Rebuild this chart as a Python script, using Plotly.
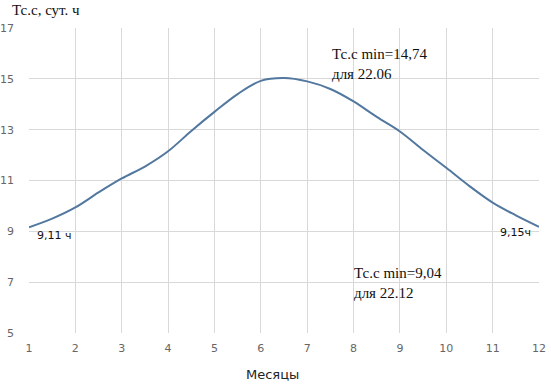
import plotly.graph_objects as go

months = [1, 1.5, 2, 2.5, 3, 3.5, 4, 4.5, 5, 5.5, 6, 6.5, 7, 7.5, 8, 8.5, 9, 9.5, 10, 10.5, 11, 11.5, 12]
day_length = [9.16, 9.5, 9.94, 10.53, 11.08, 11.55, 12.15, 12.95, 13.7, 14.4, 14.92, 15.03, 14.9, 14.6,
              14.11, 13.5, 12.93, 12.2, 11.5, 10.78, 10.13, 9.63, 9.18]
x_ticks = list(range(1, 13))
y_ticks = [5, 7, 9, 11, 13, 15, 17]

fig = go.Figure()
fig.add_trace(go.Scatter(x=months, y=day_length, mode="lines",
                         line=dict(color="#52789F", width=2, shape="spline", smoothing=1.0),
                         hoverinfo="skip", showlegend=False))

serif = "Liberation Serif, Times New Roman, serif"
sans = "DejaVu Sans, Arial, sans-serif"

annos = [
    dict(x=0, y=1, xref="paper", yref="paper", xshift=-19, yshift=18, text="Тс.с, сут. ч",
         font=dict(family=serif, size=15, color="#111"), xanchor="left", yanchor="middle"),
    dict(x=0.478, y=0, xref="paper", yref="paper", yshift=-41, text="Месяцы",
         font=dict(family=sans, size=13, color="#222"), xanchor="center", yanchor="middle"),
    dict(x=7.49, y=15.6, text="Тс.с min=14,74<br>для 22.06",
         font=dict(family=serif, size=15, color="#111"), xanchor="left", yanchor="middle", align="left"),
    dict(x=7.97, y=6.96, text="Тс.с min=9,04<br>для 22.12",
         font=dict(family=serif, size=15, color="#111"), xanchor="left", yanchor="middle", align="left"),
    dict(x=1.13, y=8.84, text="9,11 ч", font=dict(family=sans, size=11, color="#111"),
         xanchor="left", yanchor="middle"),
    dict(x=11.87, y=8.96, text="9,15ч", font=dict(family=sans, size=11, color="#111"),
         xanchor="right", yanchor="middle"),
]
for a in annos:
    a["showarrow"] = False
    fig.add_annotation(**a)

fig.update_layout(
    width=551, height=388,
    margin=dict(l=29, r=12, t=28, b=55),
    paper_bgcolor="white", plot_bgcolor="white",
    font=dict(family=sans),
    xaxis=dict(range=[1, 12], tickvals=x_ticks, showgrid=True, gridcolor="#d9d9d9", gridwidth=1,
               zeroline=False, showline=False, ticks="", tickfont=dict(size=11, color="#666"),
               automargin=False, ticklabelstandoff=7),
    yaxis=dict(range=[5, 17], tickvals=y_ticks, showgrid=True, gridcolor="#d9d9d9", gridwidth=1,
               zeroline=False, showline=False, ticks="", tickfont=dict(size=11, color="#666"),
               automargin=False, ticklabelstandoff=14),
)
fig.write_html("out.html", config={"displayModeBar": False},
               post_script="document.body.style.margin='0';")
